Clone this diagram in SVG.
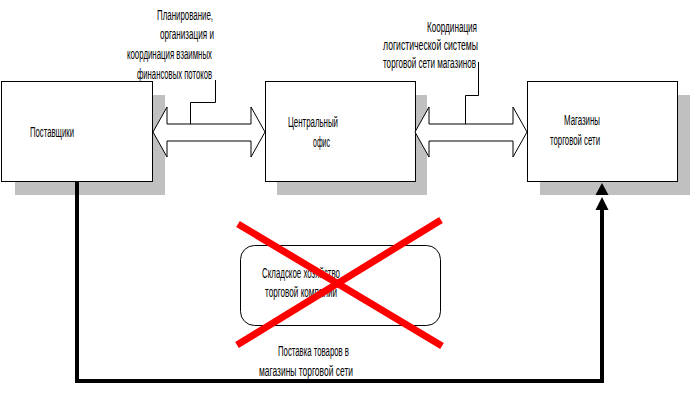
<svg xmlns="http://www.w3.org/2000/svg" width="692" height="402" viewBox="0 0 692 402">
<style>
.bg{fill:#ffffff}
.sh{fill:#c0c0c0}
.box{fill:#ffffff;stroke:#000000;stroke-width:1}
.t{font-family:"Liberation Sans",Arial,sans-serif;font-size:14px;fill:#000000}
.dbl{fill:#ffffff;stroke:#000000;stroke-width:1;stroke-linejoin:miter}
.ld{fill:none;stroke:#000000;stroke-width:1}
.thick{fill:none;stroke:#000000;stroke-width:4}
.cross{stroke:#ff0000;stroke-width:7;stroke-linecap:butt}
</style>
<rect class="bg" x="0" y="0" width="692" height="402"/>
<g id="label-finance">
<text class="t" x="157" y="19.5" textLength="56" lengthAdjust="spacingAndGlyphs">Планирование,</text>
<text class="t" x="160" y="39" textLength="54" lengthAdjust="spacingAndGlyphs">организация и</text>
<text class="t" x="127" y="59" textLength="85" lengthAdjust="spacingAndGlyphs">координация взаимных</text>
<text class="t" x="137" y="79" textLength="75" lengthAdjust="spacingAndGlyphs">финансовых потоков</text>
</g>
<g id="label-logistics">
<text class="t" x="427" y="32" textLength="50" lengthAdjust="spacingAndGlyphs">Координация</text>
<text class="t" x="383" y="50" textLength="95" lengthAdjust="spacingAndGlyphs">логистической системы</text>
<text class="t" x="383" y="68" textLength="93" lengthAdjust="spacingAndGlyphs">торговой сети магазинов</text>
</g>
<g id="suppliers">
<rect class="sh" x="15" y="95" width="150" height="100"/>
<rect class="box" x="1.5" y="81.5" width="151" height="100"/>
<text class="t" x="30" y="137" textLength="44" lengthAdjust="spacingAndGlyphs">Поставщики</text>
</g>
<g id="central-office">
<rect class="sh" x="277" y="95" width="150" height="100"/>
<rect class="box" x="265.5" y="81.5" width="150" height="100"/>
<text class="t" x="288" y="127" textLength="50" lengthAdjust="spacingAndGlyphs">Центральный</text>
<text class="t" x="313" y="147" textLength="17" lengthAdjust="spacingAndGlyphs">офис</text>
</g>
<g id="stores">
<rect class="sh" x="540" y="95" width="150" height="100"/>
<rect class="box" x="527.5" y="81.5" width="150" height="100"/>
<text class="t" x="564" y="125" textLength="36" lengthAdjust="spacingAndGlyphs">Магазины</text>
<text class="t" x="550" y="145" textLength="50" lengthAdjust="spacingAndGlyphs">торговой сети</text>
</g>
<g id="warehouse">
<rect class="box" x="240.5" y="245.5" width="200" height="80" rx="14" ry="14"/>
<text class="t" x="262" y="278" textLength="78" lengthAdjust="spacingAndGlyphs">Складское хозяйство</text>
<text class="t" x="265" y="297" textLength="72" lengthAdjust="spacingAndGlyphs">торговой компании</text>
</g>
<g id="connectors">
<polygon class="dbl" points="153,132 167,107 167,124 251,124 251,107 265,132 251,157 251,141 167,141 167,157"/>
<polygon class="dbl" points="415,132 429,107 429,124 513,124 513,107 527,132 513,157 513,141 429,141 429,157"/>
<polyline class="ld" points="190.5,124 190.5,102.5 215.5,102.5 215.5,80"/>
<polyline class="ld" points="465.5,124 465.5,95.5 478.5,95.5 478.5,62"/>
<path class="thick" d="M77,182 V381 H602 V209"/>
<polygon fill="#000000" points="602,183 608.5,195 595.5,195"/>
<polygon fill="#000000" points="602,197 608.5,210 595.5,210"/>
<text class="t" x="278" y="356" textLength="71" lengthAdjust="spacingAndGlyphs">Поставка товаров в</text>
<text class="t" x="259" y="376" textLength="94" lengthAdjust="spacingAndGlyphs">магазины торговой сети</text>
</g>
<g id="cross">
<line class="cross" x1="238" y1="224" x2="442" y2="346"/>
<line class="cross" x1="441" y1="220" x2="237" y2="345"/>
</g>
</svg>
